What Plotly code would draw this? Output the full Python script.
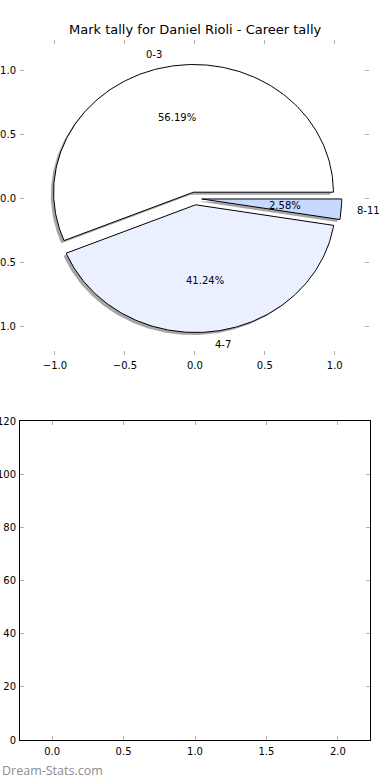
import numpy as np
import plotly.graph_objects as go

# ---- data ----
categories = ["0-3", "4-7", "8-11"]
counts = [109, 80, 5]
slice_colors = ["#ffffff", "#eaf0ff", "#c6d9ff"]
explode = [0.05, 0.05, 0.05]
title_text = "Mark tally for Daniel Rioli - Career tally"
pie_ticks = [-1.0, -0.5, 0.0, 0.5, 1.0]
bar_yticks = [0, 20, 40, 60, 80, 100, 120]
bar_xticks = [0.0, 0.5, 1.0, 1.5, 2.0]

FONT = "DejaVu Sans"
fig = go.Figure()

total = float(sum(counts))
fracs = [c / total for c in counts]

# compute wedges (matplotlib-style: start angle 0, counter-clockwise)
wedges = []
theta1 = 0.0
for frac, ex in zip(fracs, explode):
    theta2 = theta1 + 360.0 * frac
    mid = np.deg2rad((theta1 + theta2) / 2.0)
    cx, cy = ex * np.cos(mid), ex * np.sin(mid)
    t = np.deg2rad(np.linspace(theta1, theta2, max(int(abs(theta2 - theta1)), 4) + 1))
    xs = np.concatenate([[cx], cx + np.cos(t), [cx]])
    ys = np.concatenate([[cy], cy + np.sin(t), [cy]])
    wedges.append((xs, ys, mid, cx, cy))
    theta1 = theta2

# shadows first
for xs, ys, mid, cx, cy in wedges:
    fig.add_trace(go.Scatter(x=xs - 0.02, y=ys - 0.02, mode="lines", fill="toself",
                             fillcolor="rgba(77,77,77,0.5)", line=dict(width=0),
                             hoverinfo="skip", showlegend=False, xaxis="x", yaxis="y"))
for (xs, ys, mid, cx, cy), col, cat in zip(wedges, slice_colors, categories):
    fig.add_trace(go.Scatter(x=xs, y=ys, mode="lines", fill="toself", fillcolor=col,
                             line=dict(color="black", width=1), name=cat,
                             showlegend=False, xaxis="x", yaxis="y"))

annotations = []
for (xs, ys, mid, cx, cy), cat, frac in zip(wedges, categories, fracs):
    lx = cx + 1.1 * np.cos(mid)
    ly = cy + 1.1 * np.sin(mid)
    annotations.append(dict(x=lx, y=ly, xref="x", yref="y", text=cat, showarrow=False,
                            xanchor="left" if lx > 0 else "right", yanchor="middle",
                            font=dict(family=FONT, size=10, color="black")))
    px = cx + 0.6 * np.cos(mid)
    py = cy + 0.6 * np.sin(mid)
    annotations.append(dict(x=px, y=py, xref="x", yref="y", text="%.2f%%" % (frac * 100),
                            showarrow=False, xanchor="center", yanchor="middle",
                            font=dict(family=FONT, size=10, color="black")))

annotations.append(dict(x=0.5, y=1 - 30 / 780, xref="paper", yref="paper", text=title_text,
                        showarrow=False, xanchor="center", yanchor="middle",
                        font=dict(family=FONT, size=13, color="black")))
annotations.append(dict(x=0.0, y=1 - 770 / 780, xref="paper", yref="paper", text="Dream-Stats.com",
                        showarrow=False, xanchor="left", yanchor="middle",
                        font=dict(family="Open Sans", size=12.5, color="#8c8c8c")))

tickfont = dict(family=FONT, size=10, color="black")
common = dict(ticks="inside", ticklen=4, tickcolor="#b0b0b0", tickwidth=1, showgrid=False,
              zeroline=False, automargin=False, tickfont=tickfont)

fig.update_layout(
    width=390, height=780,
    margin=dict(l=0, r=0, t=0, b=0),
    paper_bgcolor="white", plot_bgcolor="white",
    showlegend=False,
    annotations=annotations,
    xaxis=dict(domain=[20 / 390, 369 / 390], range=[-1.25, 1.245], tickvals=pie_ticks,
               ticktext=["\u22121.0", "\u22120.5", "0.0", "0.5", "1.0"], ticklabelstandoff=3,
               showline=False, mirror="ticks", anchor="y", **common),
    yaxis=dict(domain=[1 - 355 / 780, 1 - 40 / 780], range=[-1.226, 1.241], tickvals=pie_ticks,
               ticktext=["\u22121.0", "\u22120.5", "0.0", "0.5", "1.0"], ticklabelstandoff=3,
               showline=False, mirror="ticks", anchor="x", **common),
    xaxis2=dict(domain=[20 / 390, 370 / 390], range=[-0.225, 2.225], tickvals=bar_xticks,
                ticktext=["%.1f" % v for v in bar_xticks], ticklabelstandoff=2,
                showline=True, linecolor="black", linewidth=1, mirror="ticks", anchor="y2", **common),
    yaxis2=dict(domain=[1 - 740 / 780, 1 - 421 / 780], range=[0, 120], tickvals=bar_yticks,
                ticklabelstandoff=1,
                showline=True, linecolor="black", linewidth=1, mirror="ticks", anchor="x2", **common),
)
fig.add_trace(go.Bar(x=[], y=[], xaxis="x2", yaxis="y2", showlegend=False))

fig.write_html("out.html", config={"displayModeBar": False},
               post_script="document.body.style.margin='0';")
